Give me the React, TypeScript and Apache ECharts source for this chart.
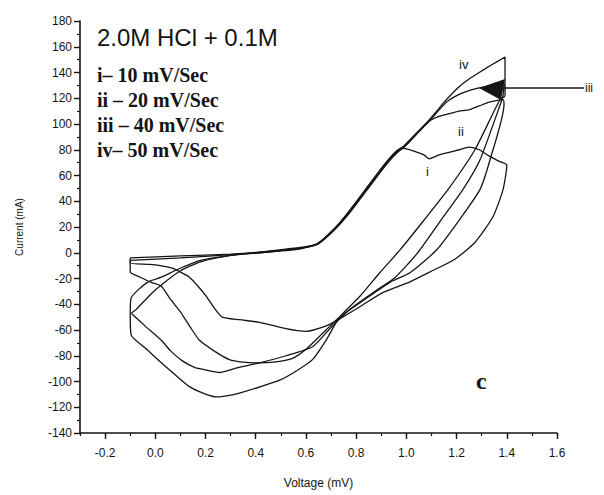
import React, { useEffect, useRef } from "react";
import * as echarts from "echarts";

// Voltage (mV) vs Current (mA), one closed CV loop per scan rate
const loopI: [number, number][] = [
  [-0.1, -4], [0.1, -2.5], [0.3, -1], [0.45, 1], [0.58, 3.5], [0.65, 7], [0.71, 17], [0.77, 30],
  [0.84, 48], [0.91, 66], [0.96, 77], [0.99, 81], [1.03, 79], [1.07, 76], [1.09, 73], [1.13, 76],
  [1.17, 78], [1.21, 80], [1.25, 82], [1.29, 80], [1.33, 75], [1.37, 71], [1.4, 68],
  [1.385, 49], [1.345, 28], [1.273, 8], [1.193, -5], [1.093, -15], [1.014, -22.6], [0.906, -31],
  [0.814, -42], [0.746, -50], [0.69, -56], [0.63, -60], [0.6, -61], [0.52, -59], [0.415, -54],
  [0.335, -52], [0.267, -50], [0.235, -43], [0.204, -34], [0.17, -26], [0.136, -19], [0.1, -15],
  [0.068, -12], [0.02, -10], [-0.024, -9], [-0.1, -8], [-0.1, -4],
];

const loopII: [number, number][] = [
  [-0.1, -6], [0.1, -4], [0.3, -1.5], [0.45, 0.5], [0.58, 3], [0.65, 7.5], [0.71, 18], [0.77, 31],
  [0.84, 49], [0.91, 67], [0.96, 78], [0.99, 82], [1.03, 90], [1.09, 102], [1.13, 106], [1.17, 108],
  [1.21, 110], [1.25, 111], [1.29, 114], [1.33, 117], [1.385, 119],
  [1.389, 115], [1.333, 72], [1.293, 49], [1.213, 26], [1.121, 2.3], [1.014, -15.5], [0.934, -23],
  [0.814, -39], [0.734, -50], [0.68, -60], [0.6, -75], [0.547, -82], [0.47, -85], [0.403, -85.5],
  [0.35, -85], [0.295, -83], [0.24, -77], [0.176, -68], [0.14, -58], [0.104, -47], [0.06, -36],
  [0.024, -26], [-0.016, -23], [-0.06, -19], [-0.1, -15], [-0.1, -6],
];

const loopIII: [number, number][] = [
  [-0.096, -47], [-0.076, -44], [-0.012, -31], [0.03, -24], [0.1, -14], [0.18, -7], [0.3, -2],
  [0.42, 0], [0.55, 3], [0.64, 6], [0.71, 17.5], [0.77, 30.5], [0.84, 48.5], [0.91, 67], [0.96, 78],
  [0.99, 82], [1.04, 92], [1.09, 102], [1.16, 117], [1.21, 123], [1.25, 126], [1.29, 128],
  [1.34, 130], [1.39, 131], [1.385, 122],
  [1.381, 119], [1.293, 72], [1.225, 49], [1.133, 24], [1.041, -1], [0.954, -19.4], [0.882, -29],
  [0.774, -44], [0.7, -58], [0.626, -73], [0.52, -80], [0.415, -85.5], [0.315, -90], [0.255, -93],
  [0.2, -91], [0.156, -89], [0.108, -84], [0.06, -76], [0.024, -68], [-0.04, -57], [-0.096, -47],
];

const loopIV: [number, number][] = [
  [-0.1, -47], [-0.096, -35], [-0.032, -23], [0.024, -19], [0.088, -13], [0.18, -6], [0.3, -2],
  [0.42, 0.5], [0.55, 3.5], [0.64, 6.5], [0.71, 18], [0.77, 32], [0.84, 50], [0.91, 68], [0.96, 79],
  [0.99, 83], [1.04, 93], [1.09, 103], [1.16, 119], [1.21, 129], [1.25, 135], [1.29, 140],
  [1.34, 146], [1.393, 152], [1.393, 122],
  [1.373, 119], [1.273, 80], [1.173, 51], [1.073, 26], [0.974, 2], [0.894, -15.5], [0.814, -34],
  [0.734, -50], [0.68, -68], [0.626, -83], [0.56, -92], [0.495, -99], [0.42, -104], [0.335, -109],
  [0.29, -111], [0.243, -112], [0.19, -109], [0.136, -104], [0.08, -95], [0.024, -85.5],
  [-0.04, -74], [-0.096, -64], [-0.1, -47],
];

const xMajorTicks = [-0.2, 0.0, 0.2, 0.4, 0.6, 0.8, 1.0, 1.2, 1.4, 1.6];
const legendLines = ["i\u2013 10 mV/Sec", "ii \u2013 20 mV/Sec", "iii \u2013 40 mV/Sec", "iv\u2013 50 mV/Sec"];
const titleText = "2.0M HCl + 0.1M";

const SANS = "Arial, 'Liberation Sans', Helvetica, sans-serif";
const SERIF = "'Liberation Serif', 'Times New Roman', serif";
const INK = "#151515";

export default function App() {
  const ref = useRef<HTMLDivElement>(null);
  useEffect(() => {
    if (!ref.current) return;
    const chart = echarts.init(ref.current, undefined, { renderer: "svg" });
    const loops = [loopI, loopII, loopIII, loopIV];
    const option: any = {
      animation: false,
      backgroundColor: "#ffffff",
      grid: { left: 80, right: 47, top: 21, bottom: 62 },
      xAxis: [
        {
          type: "value",
          min: -0.3,
          max: 1.6,
          position: "bottom",
          splitLine: { show: false },
          axisLine: { show: true, onZero: false, lineStyle: { color: INK, width: 1.6 } },
          axisTick: { show: true, length: 6, customValues: xMajorTicks, lineStyle: { color: INK, width: 1.4 } },
          axisLabel: {
            customValues: xMajorTicks,
            margin: 14,
            fontSize: 12,
            fontFamily: SANS,
            color: INK,
            formatter: (v: number) => v.toFixed(1),
          },
          name: "Voltage (mV)",
          nameLocation: "middle",
          nameGap: 44,
          nameTextStyle: { fontSize: 12, fontFamily: SANS, color: INK },
        },
        {
          type: "value",
          min: -0.3,
          max: 1.6,
          interval: 0.1,
          position: "bottom",
          splitLine: { show: false },
          axisLine: { show: false, onZero: false },
          axisTick: { show: true, length: 3, lineStyle: { color: INK, width: 1.2 } },
          axisLabel: { show: false },
        },
      ],
      yAxis: {
        type: "value",
        min: -140,
        max: 180,
        interval: 20,
        splitLine: { show: false },
        axisLine: { show: true, onZero: false, lineStyle: { color: INK, width: 1.6 } },
        axisTick: { show: true, length: 6, lineStyle: { color: INK, width: 1.4 } },
        minorTick: { show: true, splitNumber: 2, length: 3, lineStyle: { color: INK, width: 1.2 } },
        axisLabel: { margin: 8, fontSize: 12, fontFamily: SANS, color: INK },
        name: "Current (mA)",
        nameLocation: "middle",
        nameGap: 56,
        nameTextStyle: { fontSize: 10, fontFamily: SANS, color: INK },
      },
      series: loops.map((d, i) => ({
        type: "line",
        name: ["i", "ii", "iii", "iv"][i],
        data: d,
        showSymbol: false,
        smooth: 0.2,
        lineStyle: { color: INK, width: 1.3 },
        z: 2,
      })),
      graphic: [
        {
          type: "text",
          x: 97,
          y: 37,
          style: { text: titleText, fontSize: 24, fontFamily: SANS, fill: INK, textVerticalAlign: "middle" },
        },
        ...legendLines.map((t, i) => ({
          type: "text",
          x: 97,
          y: 75 + i * 25,
          style: {
            text: t,
            fontSize: 20,
            fontWeight: "bold",
            fontFamily: SERIF,
            fill: INK,
            textVerticalAlign: "middle",
          },
        })),
        {
          type: "line",
          shape: { x1: 500, y1: 88, x2: 584, y2: 88 },
          style: { stroke: INK, lineWidth: 1.3 },
        },
        {
          type: "polygon",
          shape: { points: [[479, 88], [505, 79], [501, 100]] },
          style: { fill: INK },
        },
        { type: "text", x: 585, y: 88, style: { text: "iii", fontSize: 12, fontFamily: SANS, fill: INK, textVerticalAlign: "middle" } },
        { type: "text", x: 459, y: 64, style: { text: "iv", fontSize: 13, fontFamily: SANS, fill: INK, textVerticalAlign: "middle" } },
        { type: "text", x: 458, y: 131, style: { text: "ii", fontSize: 13, fontFamily: SANS, fill: INK, textVerticalAlign: "middle" } },
        { type: "text", x: 426, y: 171, style: { text: "i", fontSize: 13, fontFamily: SANS, fill: INK, textVerticalAlign: "middle" } },
        {
          type: "text",
          x: 476,
          y: 381,
          style: { text: "c", fontSize: 24, fontWeight: "bold", fontFamily: SERIF, fill: INK, textVerticalAlign: "middle" },
        },
      ],
    };
    chart.setOption(option);
    return () => chart.dispose();
  }, []);
  return (
    <div
      ref={ref}
      style={{ position: "absolute", left: 0, top: 0, width: 604, height: 495, background: "#fff" }}
    />
  );
}
